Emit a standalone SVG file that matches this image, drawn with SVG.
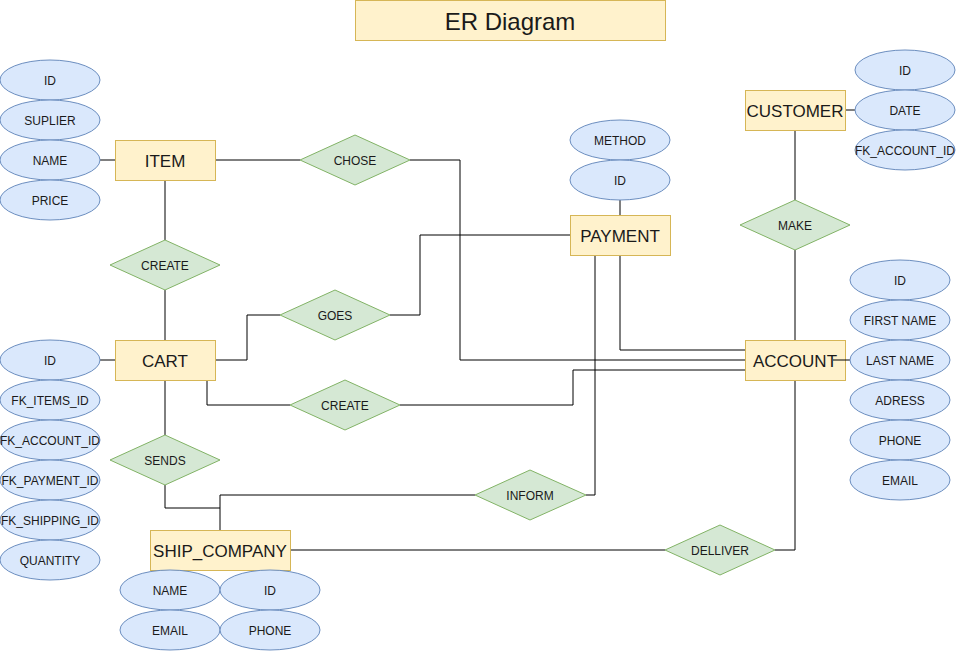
<svg xmlns="http://www.w3.org/2000/svg" width="956" height="651" viewBox="0 0 956 651">
<style>
.ent{fill:#fff2cc;stroke:#d6b656;stroke-width:1}
.rel{fill:#d5e8d4;stroke:#82b366;stroke-width:1}
.att{fill:#dae8fc;stroke:#6c8ebf;stroke-width:1}
.et{font-family:"Liberation Sans",Arial,sans-serif;font-size:17px;fill:#1a1a1a;text-anchor:middle;dominant-baseline:central}
.t{font-family:"Liberation Sans",Arial,sans-serif;font-size:12px;fill:#1a1a1a;text-anchor:middle;dominant-baseline:central}
.c{fill:none;stroke:#000;stroke-width:1}
</style>
<rect width="956" height="651" fill="#fff"/>
<g id="connectors">
<path class="c" d="M100,160H115"/>
<path class="c" d="M215,160H300"/>
<path class="c" d="M410,160H460V360H745"/>
<path class="c" d="M165,180V240"/>
<path class="c" d="M165,290V340"/>
<path class="c" d="M165,380V435"/>
<path class="c" d="M215,360H247V315H280"/>
<path class="c" d="M390,315H420V235H570"/>
<path class="c" d="M207,380V405H290"/>
<path class="c" d="M400,405H573V370H745"/>
<path class="c" d="M620,255V350H745"/>
<path class="c" d="M595,255V495H586"/>
<path class="c" d="M475,495H220V530"/>
<path class="c" d="M165,485V508H220"/>
<path class="c" d="M290,550H665"/>
<path class="c" d="M775,550H795V380"/>
<path class="c" d="M795,340V250"/>
<path class="c" d="M795,200V130"/>
<path class="c" d="M620,200V215"/>
<path class="c" d="M845,110H855"/>
<path class="c" d="M100,360H115"/>
</g>
<g id="title"><rect x="355.5" y="0.5" width="310" height="40" class="ent"/><text x="510" y="21.5" class="et" style="font-size:24px">ER Diagram</text></g>
<g id="item"><rect x="115.5" y="140.5" width="100" height="40" class="ent"/><text x="165" y="161" class="et">ITEM</text></g>
<g id="cart"><rect x="115.5" y="340.5" width="100" height="40" class="ent"/><text x="165" y="361" class="et">CART</text></g>
<g id="payment"><rect x="570.5" y="215.5" width="100" height="40" class="ent"/><text x="620" y="236" class="et">PAYMENT</text></g>
<g id="account"><rect x="745.5" y="340.5" width="100" height="40" class="ent"/><text x="795" y="361" class="et">ACCOUNT</text></g>
<g id="customer"><rect x="745.5" y="90.5" width="100" height="40" class="ent"/><text x="795" y="111" class="et">CUSTOMER</text></g>
<g id="ship_company"><rect x="150.5" y="530.5" width="140" height="40" class="ent"/><text x="220" y="551" class="et">SHIP_COMPANY</text></g>
<path class="c" d="M833,360H850"/>
<g id="chose"><path class="rel" d="M300,160L355,135L410,160L355,185Z"/><text x="355" y="161" class="t">CHOSE</text></g>
<g id="create1"><path class="rel" d="M110,265L165,240L220,265L165,290Z"/><text x="165" y="266" class="t">CREATE</text></g>
<g id="goes"><path class="rel" d="M280,315L335,290L390,315L335,340Z"/><text x="335" y="316" class="t">GOES</text></g>
<g id="create2"><path class="rel" d="M290,405L345,380L400,405L345,430Z"/><text x="345" y="406" class="t">CREATE</text></g>
<g id="make"><path class="rel" d="M740,225L795,200L850,225L795,250Z"/><text x="795" y="226" class="t">MAKE</text></g>
<g id="sends"><path class="rel" d="M110,460L165,435L220,460L165,485Z"/><text x="165" y="461" class="t">SENDS</text></g>
<g id="inform"><path class="rel" d="M475,495L530,470L586,495L530,520Z"/><text x="530" y="496" class="t">INFORM</text></g>
<g id="delliver"><path class="rel" d="M665,550L720,525L775,550L720,575Z"/><text x="720" y="551" class="t">DELLIVER</text></g>
<g id="item_attrs">
<g id="item_id"><ellipse class="att" cx="50" cy="80" rx="50" ry="20"/><text x="50" y="81" class="t">ID</text></g>
<g id="item_suplier"><ellipse class="att" cx="50" cy="120" rx="50" ry="20"/><text x="50" y="121" class="t">SUPLIER</text></g>
<g id="item_name"><ellipse class="att" cx="50" cy="160" rx="50" ry="20"/><text x="50" y="161" class="t">NAME</text></g>
<g id="item_price"><ellipse class="att" cx="50" cy="200" rx="50" ry="20"/><text x="50" y="201" class="t">PRICE</text></g>
</g>
<g id="cart_attrs">
<g id="cart_id"><ellipse class="att" cx="50" cy="360" rx="50" ry="20"/><text x="50" y="361" class="t">ID</text></g>
<g id="cart_fk_items"><ellipse class="att" cx="50" cy="400" rx="50" ry="20"/><text x="50" y="401" class="t">FK_ITEMS_ID</text></g>
<g id="cart_fk_account"><ellipse class="att" cx="50" cy="440" rx="50" ry="20"/><text x="50" y="441" class="t">FK_ACCOUNT_ID</text></g>
<g id="cart_fk_payment"><ellipse class="att" cx="50" cy="480" rx="50" ry="20"/><text x="50" y="481" class="t">FK_PAYMENT_ID</text></g>
<g id="cart_fk_shipping"><ellipse class="att" cx="50" cy="520" rx="50" ry="20"/><text x="50" y="521" class="t">FK_SHIPPING_ID</text></g>
<g id="cart_quantity"><ellipse class="att" cx="50" cy="560" rx="50" ry="20"/><text x="50" y="561" class="t">QUANTITY</text></g>
</g>
<g id="payment_attrs">
<g id="payment_method"><ellipse class="att" cx="620" cy="140" rx="50" ry="20"/><text x="620" y="141" class="t">METHOD</text></g>
<g id="payment_id"><ellipse class="att" cx="620" cy="180" rx="50" ry="20"/><text x="620" y="181" class="t">ID</text></g>
</g>
<g id="customer_attrs">
<g id="customer_id"><ellipse class="att" cx="905" cy="70" rx="50" ry="20"/><text x="905" y="71" class="t">ID</text></g>
<g id="customer_date"><ellipse class="att" cx="905" cy="110" rx="50" ry="20"/><text x="905" y="111" class="t">DATE</text></g>
<g id="customer_fk_account"><ellipse class="att" cx="905" cy="150" rx="50" ry="20"/><text x="905" y="151" class="t">FK_ACCOUNT_ID</text></g>
</g>
<g id="account_attrs">
<g id="account_id"><ellipse class="att" cx="900" cy="280" rx="50" ry="20"/><text x="900" y="281" class="t">ID</text></g>
<g id="account_first"><ellipse class="att" cx="900" cy="320" rx="50" ry="20"/><text x="900" y="321" class="t">FIRST NAME</text></g>
<g id="account_last"><ellipse class="att" cx="900" cy="360" rx="50" ry="20"/><text x="900" y="361" class="t">LAST NAME</text></g>
<g id="account_adress"><ellipse class="att" cx="900" cy="400" rx="50" ry="20"/><text x="900" y="401" class="t">ADRESS</text></g>
<g id="account_phone"><ellipse class="att" cx="900" cy="440" rx="50" ry="20"/><text x="900" y="441" class="t">PHONE</text></g>
<g id="account_email"><ellipse class="att" cx="900" cy="480" rx="50" ry="20"/><text x="900" y="481" class="t">EMAIL</text></g>
</g>
<g id="ship_attrs">
<g id="ship_name"><ellipse class="att" cx="170" cy="590" rx="50" ry="20"/><text x="170" y="591" class="t">NAME</text></g>
<g id="ship_id"><ellipse class="att" cx="270" cy="590" rx="50" ry="20"/><text x="270" y="591" class="t">ID</text></g>
<g id="ship_email"><ellipse class="att" cx="170" cy="630" rx="50" ry="20"/><text x="170" y="631" class="t">EMAIL</text></g>
<g id="ship_phone"><ellipse class="att" cx="270" cy="630" rx="50" ry="20"/><text x="270" y="631" class="t">PHONE</text></g>
</g>
</svg>
